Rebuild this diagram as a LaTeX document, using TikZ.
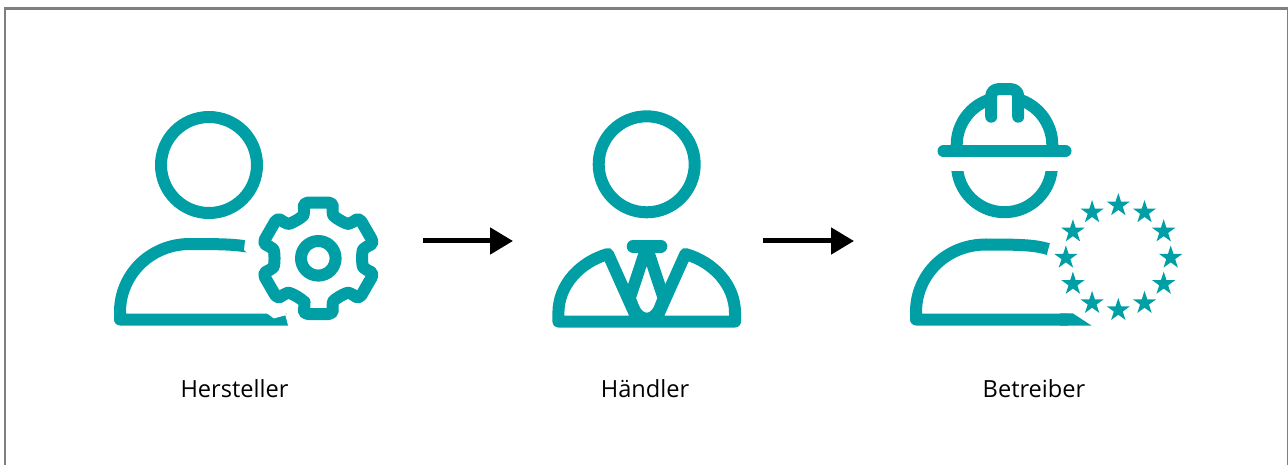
\documentclass[tikz,border=0pt]{standalone}
\usepackage{fontspec}
\setmainfont{Open Sans}
\usetikzlibrary{shapes.geometric, arrows.meta, positioning}
\definecolor{icteal}{HTML}{009EA5}
\definecolor{icframe}{HTML}{7F7F7F}

\begin{document}
\begin{tikzpicture}[
    x=1pt, y=-1pt,
    iconbox/.style={inner sep=0pt, outer sep=0pt, minimum height=1pt},
    caption/.style={inner sep=0pt, outer sep=0pt, font=\fontsize{23.6}{28}\selectfont, text height=16pt, text depth=0pt},
    icon/.style={draw=icteal, line width=12pt, line join=round},
    eustar/.style={star, star points=5, star point ratio=2.618, fill=icteal, inner sep=0pt, outer sep=0pt, minimum size=24.5pt},
    arrow/.style={-{Triangle[length=23pt, width=26pt]}, line width=5pt, black},
    frame/.style={draw=icframe, line width=2.2pt}
]
\useasboundingbox (0,0) rectangle (1288,465);
\draw[frame] (5.3,8.6) rectangle (1288,490);

% Nodes
\node[iconbox, minimum width=266pt] (hicon) at (246,241) {};
\node[iconbox, minimum width=190pt, right=173pt of hicon] (dicon) {};
\node[iconbox, minimum width=274pt, right=167pt of dicon] (bicon) {};

\node[caption, below=139.5pt of hicon, xshift=-11.5pt] (hersteller) {Hersteller};
\node[caption, below=139.5pt of dicon, xshift=-2pt] (haendler) {Händler};
\node[caption, below=139.5pt of bicon, xshift=-12pt] (betreiber) {Betreiber};

% Hersteller
\draw[icon] (209,165) circle[radius=48];
\draw[icon] (250,247) .. controls (235,244.5) and (225,244) .. (190,244)
    .. controls (150,244) and (120,275) .. (120,312) -- (120,319.5) -- (296,319.5);
\begin{scope}[shift={(318.3,258.3)}]
    \draw[icon, preaction={draw=white, line width=39pt}, rounded corners=4.5pt] (106:50)
        \foreach \a in {90,30,-30,-90,-150,-210}{
            -- (\a+15:57.7) -- (\a-15:57.7) -- (\a-16:50)
            .. controls (\a-20:44) and (\a-40:44) .. (\a-44:50)
        } -- cycle;
    \draw[icon] (0,0) circle[radius=17.3];
\end{scope}

% Haendler
\draw[icon] (646.7,164.3) circle[radius=48];
\draw[icon] (636.7,318) -- (608,254) .. controls (580,262) and (558.4,285) .. (558.4,313)
    -- (558.4,321.5) -- (735,321.5) -- (735,313)
    .. controls (735,285) and (713.4,262) .. (685.4,254) -- (656.7,318);
\draw[icon, line cap=round, line width=12.6pt] (633,246.3) -- (661,246.3);
\draw[icon] (646.7,247) -- (629.7,298.3) -- (633.7,308.3)
    .. controls (637,316) and (642,318.7) .. (646.7,318.7)
    .. controls (651.4,318.7) and (656.4,316) .. (659.7,308.3) -- (663.7,298.3) -- cycle;

% Betreiber
\draw[icon, line cap=round] (943.5,151.2) -- (1065.5,151.2);
\draw[icon] (956.7,151) -- (956.7,145) arc[start angle=180, end angle=253.8, radius=47.8];
\draw[icon] (1052.3,151) -- (1052.3,145) arc[start angle=0, end angle=-73.8, radius=47.8];
\draw[icon, line cap=round, rounded corners=7pt] (991.2,116.7) -- (991.2,89.2) -- (1018.2,89.2) -- (1018.2,116.7);
\begin{scope}
    \clip (940,172) rectangle (1070,225);
    \draw[icon] (1004.5,164.7) circle[radius=47.5];
\end{scope}
\draw[icon] (1048.3,249.1) .. controls (1035,245) and (1020,244.5) .. (986,244.5)
    .. controls (946,244.5) and (916,275) .. (916,312) -- (916,319.5) -- (1068,319.5);
\fill[icteal] (1060,313.3) -- (1072.7,313.3) -- (1091.7,325.7) -- (1060,325.7) -- cycle;
\foreach \a in {0,30,...,330}
    \node[eustar] (star\a) at ([shift={(\a:52.4)}]1118.3,257.7) {};

% Arrows
\draw[arrow, shorten <=44pt, shorten >=39pt] (hicon) -- (dicon);
\draw[arrow, shorten <=21pt, shorten >=55pt] (dicon) -- (bicon);

\end{tikzpicture}
\end{document}
